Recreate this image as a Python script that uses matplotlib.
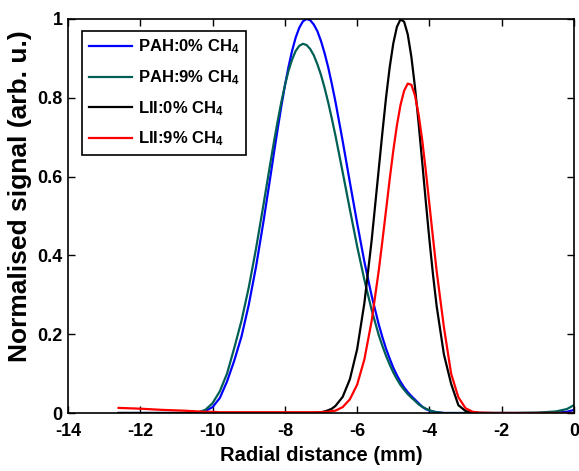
import numpy as np
import matplotlib
matplotlib.use('Agg')
import matplotlib.pyplot as plt

plt.rcParams['font.family'] = ['Liberation Sans', 'DejaVu Sans']
plt.rcParams['font.weight'] = 'bold'
plt.rcParams['mathtext.fontset'] = 'custom'
plt.rcParams['mathtext.rm'] = 'Liberation Sans:bold'
plt.rcParams['mathtext.bf'] = 'Liberation Sans:bold'
plt.rcParams['mathtext.default'] = 'bf'
plt.rcParams['axes.unicode_minus'] = False

# radial position (mm), shared by all profiles
radial = [-12.6, -12.0, -11.4, -10.8, -10.4,
          -10.2, -10.0, -9.8, -9.6, -9.4, -9.2, -9.0, -8.8, -8.6, -8.4,
          -8.3, -8.2, -8.1, -8.0, -7.9, -7.8, -7.7, -7.6, -7.5, -7.4,
          -7.3, -7.2, -7.1, -7.0, -6.9, -6.8, -6.7, -6.6, -6.4, -6.2,
          -6.0, -5.8, -5.6, -5.4, -5.3, -5.2, -5.1, -5.0, -4.9, -4.8,
          -4.7, -4.6, -4.5, -4.4, -4.3, -4.2, -4.1, -4.0, -3.9, -3.8,
          -3.6, -3.4, -3.2, -3.0, -2.8, -2.6,
          -2.2, -1.6, -1.0, -0.5, -0.2, 0.0]

pah_0 = [0.0, 0.0, 0.0, 0.0, 0.001,
         0.005, 0.015, 0.038, 0.080, 0.133, 0.194, 0.274, 0.370, 0.481, 0.600,
         0.661, 0.720, 0.777, 0.830, 0.878, 0.919, 0.953, 0.978, 0.994, 1.000,
         0.997, 0.986, 0.969, 0.944, 0.913, 0.877, 0.835, 0.790, 0.690, 0.585,
         0.482, 0.384, 0.298, 0.224, 0.192, 0.163, 0.138, 0.115, 0.096, 0.079,
         0.065, 0.053, 0.043, 0.034, 0.025, 0.016, 0.010, 0.006, 0.004, 0.002,
         0.0, 0.0, 0.0, 0.0, 0.0, 0.0,
         0.0, 0.0, 0.0, 0.001, 0.003, 0.008]

pah_9 = [0.0, 0.0, 0.0, 0.0, 0.002,
         0.008, 0.025, 0.055, 0.100, 0.165, 0.234, 0.318, 0.416, 0.524, 0.635,
         0.689, 0.740, 0.788, 0.831, 0.868, 0.897, 0.919, 0.932, 0.937, 0.934,
         0.924, 0.908, 0.885, 0.858, 0.825, 0.788, 0.747, 0.704, 0.611, 0.516,
         0.423, 0.338, 0.262, 0.197, 0.170, 0.145, 0.123, 0.103, 0.086, 0.071,
         0.059, 0.048, 0.039, 0.031, 0.022, 0.016, 0.011, 0.007, 0.004, 0.002,
         0.0, 0.0, 0.0, 0.0, 0.0, 0.0,
         0.0, 0.0, 0.001, 0.004, 0.010, 0.020]

lii_0 = [0.0, 0.0, 0.0, 0.0, 0.0,
         0.0, 0.0, 0.0, 0.0, 0.0, 0.0, 0.0, 0.0, 0.0, 0.0,
         0.0, 0.0, 0.0, 0.0, 0.0, 0.0, 0.0, 0.0, 0.0, 0.0,
         0.0, 0.0, 0.001, 0.002, 0.004, 0.007, 0.011, 0.018, 0.041, 0.086,
         0.162, 0.279, 0.437, 0.621, 0.713, 0.801, 0.877, 0.938, 0.980, 0.999,
         0.993, 0.961, 0.904, 0.827, 0.736, 0.637, 0.536, 0.439, 0.350, 0.271,
         0.149, 0.074, 0.020, 0.005, 0.001, 0.0,
         0.0, 0.0, 0.0, 0.0, 0.0, 0.0]

lii_9 = [0.013, 0.011, 0.008, 0.006, 0.004,
         0.003, 0.003, 0.002, 0.002, 0.002, 0.002, 0.002, 0.002, 0.002, 0.002,
         0.002, 0.002, 0.002, 0.002, 0.002, 0.002, 0.002, 0.002, 0.002, 0.002,
         0.002, 0.002, 0.002, 0.002, 0.003, 0.003, 0.005, 0.006, 0.015, 0.035,
         0.072, 0.136, 0.233, 0.363, 0.438, 0.515, 0.593, 0.666, 0.730, 0.782,
         0.818, 0.836, 0.833, 0.806, 0.758, 0.693, 0.614, 0.529, 0.443, 0.360,
         0.218, 0.100, 0.040, 0.012, 0.003, 0.001,
         0.0, 0.0, 0.0, 0.0, 0.0, 0.0]

labels = [r'PAH:0% CH$_4$', r'PAH:9% CH$_4$', r'LII:0% CH$_4$', r'LII:9% CH$_4$']
colors = ['#0000ff', '#005f55', '#000000', '#ff0000']

fig = plt.figure(figsize=(5.79, 4.71), dpi=100)
ax = fig.add_axes([0.1174, 0.1231, 0.8740, 0.8366])

for ys, lab, c in zip([pah_0, pah_9, lii_0, lii_9], labels, colors):
    ax.plot(radial, ys, color=c, lw=1.6, label=lab)

ax.set_xlim(-14, 0)
ax.set_ylim(0, 1)
ax.set_xticks(np.arange(-14, 1, 2))
ax.set_yticks([0, 0.2, 0.4, 0.6, 0.8, 1])
ax.set_yticklabels(['0', '0.2', '0.4', '0.6', '0.8', '1'])
ax.tick_params(direction='in', top=True, right=True, length=5, width=1,
               labelsize=13)
ax.tick_params(axis='x', pad=7)
ax.tick_params(axis='y', pad=4)
for s in ax.spines.values():
    s.set_linewidth(1.2)

ax.set_xlabel('Radial distance (mm)', fontsize=14.5, fontweight='bold')
ax.set_ylabel('Normalised signal (arb. u.)', fontsize=19, fontweight='bold')
ax.xaxis.set_label_coords(0.501, -0.083)
ax.yaxis.set_label_coords(-0.071, 0.551)

leg = ax.legend(loc='upper left', bbox_to_anchor=(0.0277, 0.9695),
                borderaxespad=0, fancybox=False, edgecolor='black',
                framealpha=1, handlelength=2.6, handletextpad=0.35,
                labelspacing=0.72, prop={'weight': 'bold', 'size': 12})
leg.get_frame().set_linewidth(1.2)

fig.savefig('out.png', dpi=100)
